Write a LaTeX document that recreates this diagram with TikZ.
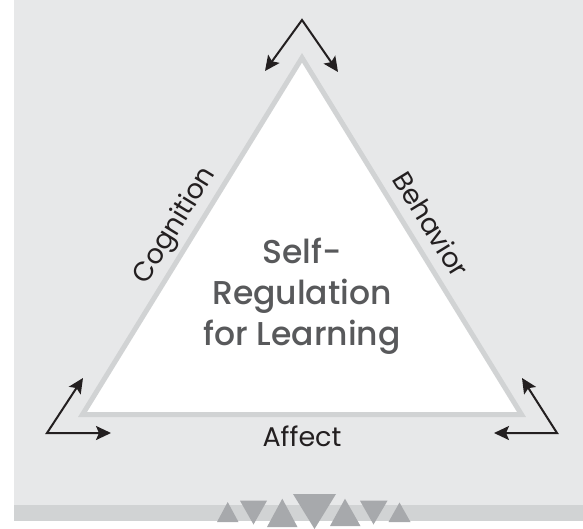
\documentclass[tikz,border=0pt]{standalone}
\usepackage{fontspec}
\setmainfont{Poppins}
\newfontfamily\mittelfont{Poppins Medium}
\usetikzlibrary{arrows.meta}

\definecolor{bggray}{HTML}{E7E8E9}
\definecolor{linegray}{HTML}{D1D3D4}
\definecolor{decogray}{HTML}{A7A9AC}
\definecolor{txtgray}{HTML}{58595B}
\definecolor{txtblack}{HTML}{231F20}

\tikzset{
  pfeil/.style={{Stealth[length=15pt,width=14pt,inset=3pt]}-{Stealth[length=15pt,width=14pt,inset=3pt]},
    line width=2pt, txtblack},
  kante/.style={midway, sloped, anchor=base, yshift=13pt, text=txtblack,
    font=\fontsize{27}{30}\selectfont},
}

\begin{document}
\begin{tikzpicture}[x=1pt,y=-1pt]
  \useasboundingbox (0,0) rectangle (583,528);

  % Hintergrund
  \fill[bggray] (14,0) rectangle (583,505);
  \fill[linegray] (14,505) rectangle (583,521);

  % Dreieck
  \coordinate (spitze) at (302,57.8);
  \coordinate (links) at (82.5,414.5);
  \coordinate (rechts) at (521.5,414.5);
  \draw[linegray, line width=5pt, fill=white] (links) -- (spitze) -- (rechts) -- cycle;

  \path (links) -- (spitze) node[kante] (cog) {Cognition};
  \path (spitze) -- (rechts) node[kante] (beh) {Behavior};
  \node[anchor=base, text=txtblack, font=\fontsize{27}{30}\selectfont] (aff) at (302,446) {Affect};

  \node[align=center, text=txtgray, font=\mittelfont\fontsize{33}{41}\selectfont] (srl) at (302,296)
    {Self-\\Regulation\\for Learning};

  % Pfeile
  \coordinate (o) at (302,20);
  \coordinate (ol) at (265,71);
  \coordinate (or) at (338,72);
  \draw[pfeil] (ol) -- (o) -- (or);

  \coordinate (l) at (47,433);
  \coordinate (lo) at (83,378);
  \coordinate (lr) at (111,433);
  \draw[pfeil] (lo) -- (l) -- (lr);

  \coordinate (r) at (557,433);
  \coordinate (ro) at (522,378);
  \coordinate (rl) at (494,433);
  \draw[pfeil] (ro) -- (r) -- (rl);

  % Dreiecke unten
  \fill[decogray] (217,522) -- (227.7,502) -- (238.5,522) -- cycle;
  \fill[decogray] (240,500.7) -- (267,500.7) -- (253.5,524.5) -- cycle;
  \fill[decogray] (267,527) -- (282.3,498.7) -- (297.5,527) -- cycle;
  \fill[decogray] (293,494) -- (336,494) -- (314.5,529) -- cycle;
  \fill[decogray] (330,526) -- (345,498.7) -- (360.5,526) -- cycle;
  \fill[decogray] (360,500.7) -- (387.5,500.7) -- (373.5,524.5) -- cycle;
  \fill[decogray] (388.5,522) -- (399.5,502.5) -- (410.5,522) -- cycle;
\end{tikzpicture}
\end{document}
